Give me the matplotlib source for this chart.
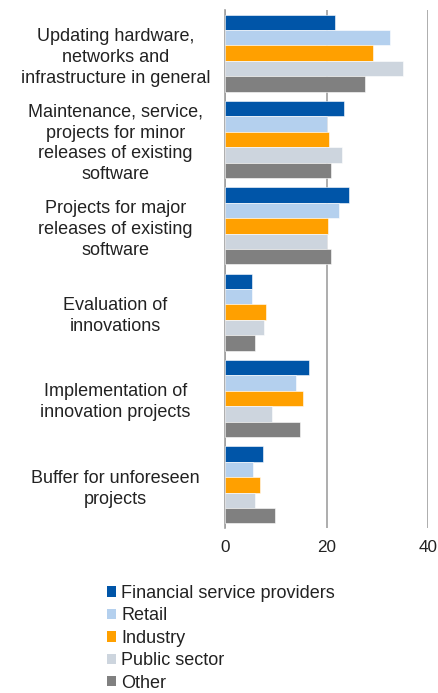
import matplotlib
matplotlib.use("Agg")
import matplotlib.pyplot as plt
import numpy as np
from matplotlib.patches import Patch

plt.rcParams['font.family'] = ['Liberation Sans', 'DejaVu Sans']

categories = [
    "Updating hardware,\nnetworks and\ninfrastructure in general",
    "Maintenance, service,\nprojects for minor\nreleases of existing\nsoftware",
    "Projects for major\nreleases of existing\nsoftware",
    "Evaluation of\ninnovations",
    "Implementation of\ninnovation projects",
    "Buffer for unforeseen\nprojects",
]
series_names = ["Financial service providers", "Retail", "Industry", "Public sector", "Other"]
financial = [21.7, 23.5, 24.5, 5.4, 16.5, 7.5]
retail = [32.6, 20.1, 22.5, 5.4, 13.9, 5.5]
industry = [29.1, 20.5, 20.3, 8.1, 15.3, 6.8]
public = [35.0, 23.0, 20.1, 7.6, 9.3, 5.9]
other = [27.6, 20.9, 20.9, 5.9, 14.8, 9.9]
ticks = [0, 20, 40]

values = [financial, retail, industry, public, other]
colors = ["#0055A8", "#B4D0EE", "#FFA000", "#CDD5DE", "#808080"]

fig = plt.figure(figsize=(4.39, 6.93), dpi=100)
ax = fig.add_axes([225/439, 1-528/693, 203/439, 518/693])

n = len(series_names)
bh = 0.178
y = np.arange(len(categories))
for i, (vals, c) in enumerate(zip(values, colors)):
    offs = (i - (n-1)/2) * bh
    ax.barh(y + offs, vals, height=bh, color=c, edgecolor="white", linewidth=0.4, zorder=3)

ax.set_ylim(len(categories) - 0.5, -0.5)
ax.set_xlim(0, 40)
ax.set_xticks(ticks)
ax.set_xticklabels([str(t) for t in ticks], fontsize=12.3, color="#222222")
ax.set_yticks(y)
ax.set_yticklabels(categories, fontsize=13, ha="center", linespacing=1.3, color="#222222")
ax.tick_params(axis='y', length=0, pad=79)
ax.tick_params(axis='x', length=0, pad=9)
for s in ["top", "right", "bottom"]:
    ax.spines[s].set_visible(False)
ax.spines["left"].set_color("#A0A0A0")
ax.spines["left"].set_linewidth(1.2)
ax.xaxis.grid(True, color="#A0A0A0", linewidth=1.2, zorder=0)
ax.set_axisbelow(True)

handles = [Patch(facecolor=c, edgecolor="none") for c in colors]
leg = fig.legend(handles, series_names, loc="upper left", bbox_to_anchor=(107/439, 1-585/693),
           frameon=False, fontsize=13, handlelength=0.5, handleheight=0.5,
           handletextpad=0.3, labelspacing=0.30, borderpad=0, borderaxespad=0)
for t in leg.get_texts():
    t.set_color("#222222")

fig.savefig("out.png", dpi=100)
